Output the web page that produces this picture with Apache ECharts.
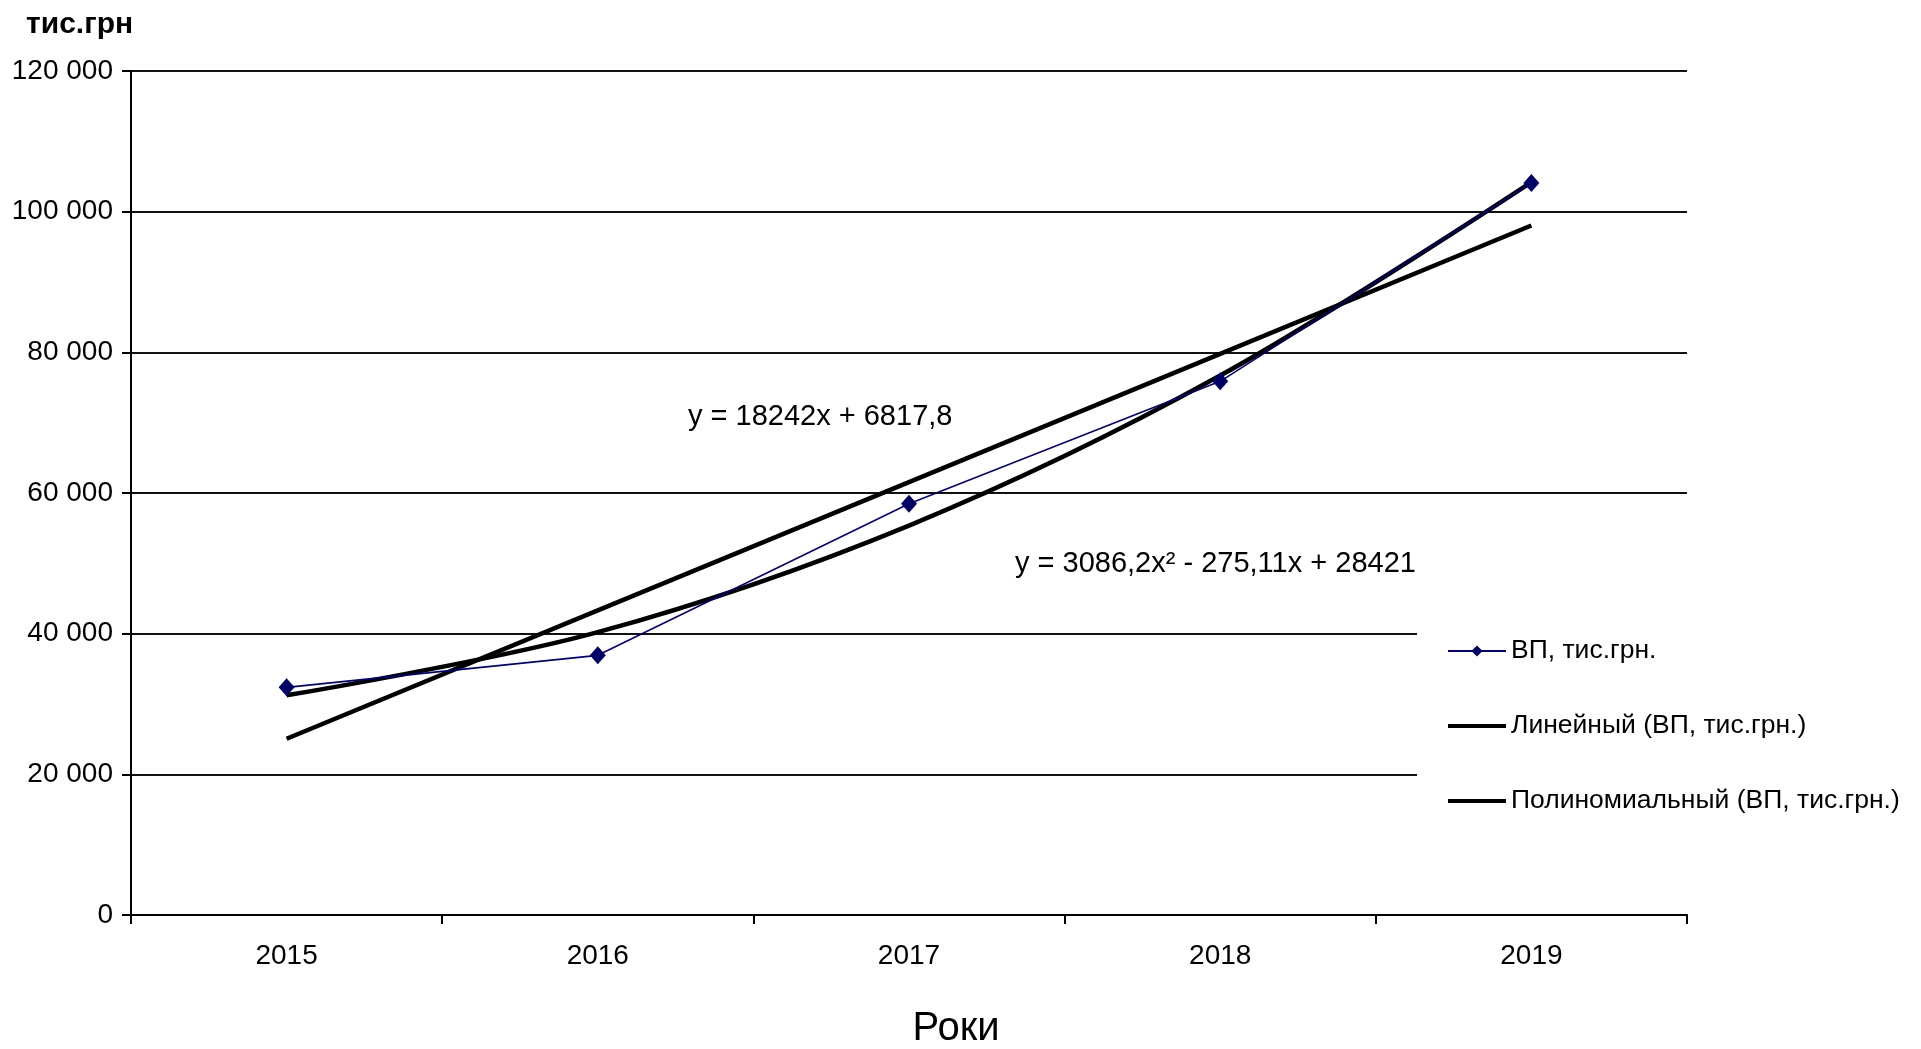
<!DOCTYPE html>
<html>
<head>
<meta charset="utf-8">
<title>ВП, тис.грн.</title>
<script src="https://cdn.jsdelivr.net/npm/echarts@6/dist/echarts.min.js"></script>
<style>
  html, body { margin: 0; padding: 0; background: #fff; }
  #chart { width: 1921px; height: 1049px; }
</style>
</head>
<body>
<div id="chart"></div>
<script>
// Years on the category axis
const years = ['2015', '2016', '2017', '2018', '2019'];
// Period index used by the trend equations (x = 1..5)
const periods = [1, 2, 3, 4, 5];
// Gross output, thousand UAH
const grossOutput = [32370, 36920, 58460, 75880, 104090];
// Trend coefficients as stated in the equation labels
const linearCoef = [18242, 6817.8];          // y = a·x + b
const polyCoef = [3086.2, -275.11, 28421];   // y = a·x² + b·x + c
// Value axis ticks
const yTicks = [0, 20000, 40000, 60000, 80000, 100000, 120000];

const seriesNames = ['ВП, тис.грн.', 'Линейный (ВП, тис.грн.)', 'Полиномиальный (ВП, тис.грн.)'];
const linearLabel = 'y = 18242x + 6817,8';
const polyLabel = 'y = 3086,2x² - 275,11x + 28421';

const linearTrend = periods.map(x => linearCoef[0] * x + linearCoef[1]);
const polyTrend = periods.map(x => polyCoef[0] * x * x + polyCoef[1] * x + polyCoef[2]);

const FONT = '"Liberation Sans", Arial, sans-serif';
// Thick bar used as the legend key of the trend lines
const TREND_ICON = 'path://M0,0L58,0L58,4L0,4Z';

function fmtThousands(v) {
  const s = String(v);
  if (s.length <= 3) return s;
  return s.slice(0, s.length - 3) + ' ' + s.slice(s.length - 3);
}

const chart = echarts.init(document.getElementById('chart'));
chart.setOption({
  animation: false,
  backgroundColor: '#ffffff',
  textStyle: { fontFamily: FONT, color: '#000' },
  grid: { left: 131, right: 234, top: 71, bottom: 134 },
  legend: {
    orient: 'vertical',
    left: 1417,
    top: 596,
    padding: [40, 15, 20, 30],
    backgroundColor: '#ffffff',
    itemWidth: 58,
    itemHeight: 14,
    itemGap: 45,
    symbolKeepAspect: true,
    selectedMode: false,
    textStyle: { fontFamily: FONT, fontSize: 26.5, color: '#000', lineHeight: 30 },
    data: [
      { name: seriesNames[0] },
      { name: seriesNames[1], icon: TREND_ICON },
      { name: seriesNames[2], icon: TREND_ICON }
    ]
  },
  xAxis: {
    type: 'category',
    data: years,
    boundaryGap: true,
    axisLine: { lineStyle: { color: '#000', width: 2 } },
    axisTick: { show: true, interval: 0, length: 9, lineStyle: { color: '#000', width: 2 } },
    axisLabel: { fontFamily: FONT, fontSize: 28, color: '#000', margin: 27 },
    splitLine: { show: false }
  },
  yAxis: {
    type: 'value',
    min: yTicks[0],
    max: yTicks[yTicks.length - 1],
    interval: yTicks[1] - yTicks[0],
    axisLine: { show: true, lineStyle: { color: '#000', width: 2 } },
    axisTick: { show: true, length: 9, lineStyle: { color: '#000', width: 2 } },
    axisLabel: { fontFamily: FONT, fontSize: 28, color: '#000', margin: 18, formatter: fmtThousands },
    splitLine: { show: true, lineStyle: { color: '#111', width: 2 } }
  },
  series: [
    {
      name: seriesNames[0],
      type: 'line',
      data: grossOutput,
      z: 4,
      symbol: 'diamond',
      symbolSize: [16, 18],
      showSymbol: true,
      lineStyle: { color: '#000080', width: 1.6 },
      itemStyle: { color: '#000066' }
    },
    {
      name: seriesNames[1],
      type: 'line',
      data: linearTrend,
      z: 3,
      symbol: 'none',
      lineStyle: { color: '#000', width: 4.5 },
      itemStyle: { color: '#000' }
    },
    {
      name: seriesNames[2],
      type: 'line',
      data: polyTrend,
      z: 3,
      smooth: 0.34,
      symbol: 'none',
      lineStyle: { color: '#000', width: 4.5 },
      itemStyle: { color: '#000' }
    }
  ],
  graphic: [
    {
      type: 'text', left: 26, top: 10,
      style: { text: 'тис.грн', font: 'bold 30px ' + FONT, fill: '#000' }
    },
    {
      type: 'text', x: 688, y: 417,
      style: { text: linearLabel, font: '29px ' + FONT, fill: '#000', textVerticalAlign: 'middle' }
    },
    {
      type: 'text', x: 1015, y: 564,
      style: { text: polyLabel, font: '29px ' + FONT, fill: '#000', textVerticalAlign: 'middle' }
    },
    {
      type: 'text', x: 956, y: 1029,
      style: { text: 'Роки', font: '40px ' + FONT, fill: '#000', textAlign: 'center', textVerticalAlign: 'middle' }
    }
  ]
});
</script>
</body>
</html>
